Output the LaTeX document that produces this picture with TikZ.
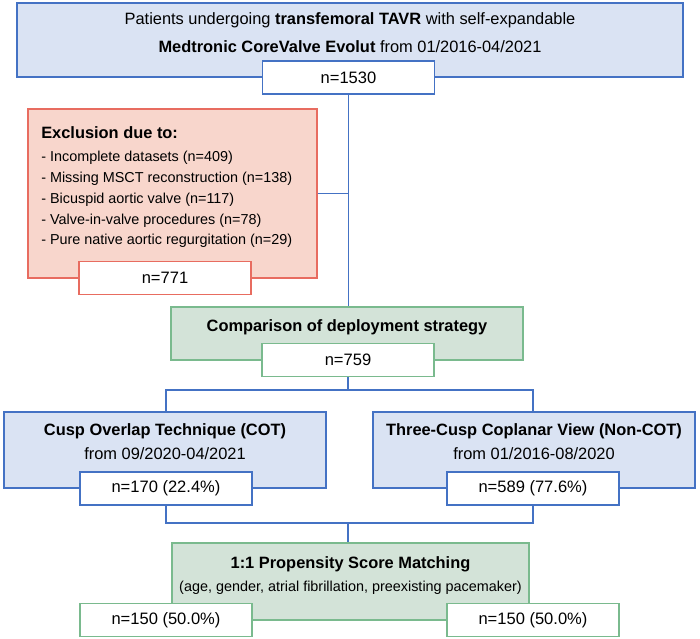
\documentclass[tikz,border=0pt]{standalone}
\usepackage{fontspec}
\setmainfont{Liberation Sans}
\definecolor{bluefill}{RGB}{218,227,243}
\definecolor{blueline}{RGB}{68,114,196}
\definecolor{redfill}{RGB}{248,214,204}
\definecolor{redline}{RGB}{232,108,96}
\definecolor{greenfill}{RGB}{211,227,216}
\definecolor{greenline}{RGB}{122,186,142}
\newcommand{\bigtext}{\fontsize{12.3}{14}\selectfont}
\newcommand{\smalltext}{\fontsize{10.8}{13}\selectfont}
\newcommand{\numtext}{\fontsize{12.4}{14}\selectfont}
\tikzset{
  panel/.style={draw=#1line, fill=#1fill, line width=1.1pt, inner sep=0pt},
  numbox/.style={draw=#1line, fill=white, line width=1.1pt, inner sep=0pt,
    minimum width=129pt, minimum height=25pt, font=\numtext},
  boxtext/.style={inner sep=0pt, font=\bigtext},
  link/.style={draw=blueline, line width=0.8pt}
}
\begin{document}
\begin{tikzpicture}[x=0.75pt, y=-0.75pt]
\useasboundingbox (0,0) rectangle (700,639);

% screening
\node[panel=blue, minimum width=499.5pt, minimum height=55.5pt] (screen) at (350,40) {};
\node[boxtext] (screenA) at (350,20) {Patients undergoing \textbf{transfemoral TAVR} with self-expandable};
\node[boxtext] (screenB) at (350,47) {\textbf{Medtronic CoreValve Evolut} from 01/2016-04/2021};
\node[numbox=blue] (n1530) at (348.5,77.5) {n=1530};

% exclusion
\node[panel=red, minimum width=216.75pt, minimum height=126.75pt] (excl) at (172.5,193.5) {};
\node[boxtext, anchor=west, font=\bigtext\bfseries] (exclhead) at (41,133) {Exclusion due to:};
\foreach \reason [count=\i] in {Incomplete datasets (n=409), Missing MSCT reconstruction (n=138),
    Bicuspid aortic valve (n=117), Valve-in-valve procedures (n=78), Pure native aortic regurgitation (n=29)}
  \node[boxtext, anchor=west, font=\smalltext] (excl\i) at (41,137.5+20.75*\i) {- \reason};
\node[numbox=red] (n771) at (165,278) {n=771};

% comparison
\node[panel=green, minimum width=264pt, minimum height=39.75pt] (compare) at (347,333.5) {};
\node[boxtext, font=\bigtext\bfseries] (comparehead) at (347,327) {Comparison of deployment strategy};
\node[numbox=green] (n759) at (348,360) {n=759};

% groups
\node[panel=blue, minimum width=241.5pt, minimum height=57pt] (cot) at (165,450) {};
\node[boxtext] (cotA) at (165,431) {\textbf{Cusp Overlap Technique (COT)}};
\node[boxtext] (cotB) at (165,454) {from 09/2020-04/2021};
\node[numbox=blue] (n170) at (166,488.5) {n=170 (22.4\%)};

\node[panel=blue, minimum width=241.5pt, minimum height=57pt] (noncot) at (534,450) {};
\node[boxtext] (noncotA) at (534,431) {\textbf{Three-Cusp Coplanar View (Non-COT)}};
\node[boxtext] (noncotB) at (534,454) {from 01/2016-08/2020};
\node[numbox=blue] (n589) at (533,488.5) {n=589 (77.6\%)};

% matching
\node[panel=green, minimum width=267.75pt, minimum height=57.75pt] (match) at (350.5,581.5) {};
\node[boxtext, font=\bigtext\bfseries] (matchA) at (350.5,564) {1:1 Propensity Score Matching};
\node[boxtext, font=\smalltext] (matchB) at (350.5,588) {(age, gender, atrial fibrillation, preexisting pacemaker)};
\node[numbox=green] (n150a) at (166,620) {n=150 (50.0\%)};
\node[numbox=green] (n150b) at (533,620) {n=150 (50.0\%)};

\coordinate (fork) at (0,390);
\coordinate (join) at (0,523);
\draw[link] (n1530.south) -- (n1530.south |- compare.north);
\draw[link] (excl.east) -- (excl.east -| n1530.south);
\draw[link] (n759.south) -- (n759.south |- fork);
\draw[link] (cot.north -| n170) -- (fork -| n170) -- (fork -| n589) -- (noncot.north -| n589);
\draw[link] (n170.south) -- (join -| n170) -- (join -| n589) -- (n589.south);
\draw[link] (join -| n759) -- (n759 |- match.north);
\end{tikzpicture}
\end{document}
